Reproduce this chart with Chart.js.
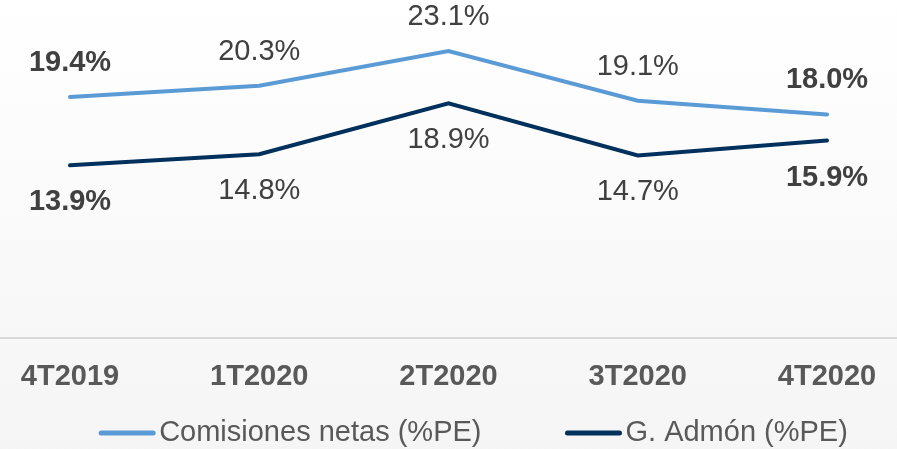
<!DOCTYPE html>
<html>
<head>
<meta charset="utf-8">
<script src="https://cdn.jsdelivr.net/npm/chart.js@4.4.1/dist/chart.umd.min.js"></script>
<style>
  html, body { margin: 0; padding: 0; background: #fff; }
  #wrap { width: 897px; height: 449px; }
</style>
</head>
<body>
<div id="wrap"><canvas id="chart"></canvas></div>
<script>
const labels = ['4T2019', '1T2020', '2T2020', '3T2020', '4T2020'];
const comisiones = [19.4, 20.3, 23.1, 19.1, 18.0];
const gAdmon = [13.9, 14.8, 18.9, 14.7, 15.9];
// which value labels are bold (first and last)
const boldLabel = [true, false, false, false, true];

const FONT = "'Liberation Sans', Arial, sans-serif";

// soft gradient background + full width axis line
const bgPlugin = {
  id: 'bg',
  beforeDraw(chart) {
    const c = chart.ctx;
    const g = c.createLinearGradient(0, 0, 0, chart.height);
    g.addColorStop(0, '#ffffff');
    g.addColorStop(1, '#f5f5f6');
    c.save();
    c.fillStyle = g;
    c.fillRect(0, 0, chart.width, chart.height);
    const y = Math.round(chart.chartArea.bottom);
    c.strokeStyle = '#d9d9d9';
    c.lineWidth = 2;
    c.beginPath();
    c.moveTo(0, y);
    c.lineTo(chart.width, y);
    c.stroke();
    c.restore();
  }
};

// value labels: first series above, second series below
const valuePlugin = {
  id: 'values',
  afterDatasetsDraw(chart) {
    const c = chart.ctx;
    c.save();
    c.fillStyle = '#404040';
    c.textAlign = 'center';
    c.textBaseline = 'middle';
    chart.data.datasets.forEach((ds, di) => {
      const meta = chart.getDatasetMeta(di);
      meta.data.forEach((pt, i) => {
        c.font = (boldLabel[i] ? 'bold ' : '') + '29px ' + FONT;
        const dy = di === 0 ? -34 : 37;
        c.fillText(ds.data[i].toFixed(1) + '%', pt.x, pt.y + dy);
      });
    });
    c.restore();
  }
};

// legend drawn by hand so line/text spacing matches
const legendPlugin = {
  id: 'simpleLegend',
  afterDraw(chart) {
    const c = chart.ctx;
    const lineLen = 56, textGap = 4, itemGap = 84;
    c.save();
    c.font = '29px ' + FONT;
    c.textBaseline = 'middle';
    const items = chart.data.datasets.map(ds => ({
      ds, w: lineLen + textGap + c.measureText(ds.label).width
    }));
    const total = items.reduce((s, it) => s + it.w, 0) + itemGap * (items.length - 1);
    let x = chart.width / 2 + 25 - total / 2;
    const y = chart.height - 16;
    items.forEach(it => {
      c.strokeStyle = it.ds.borderColor;
      c.lineWidth = 5;
      c.lineCap = 'round';
      c.beginPath();
      c.moveTo(x + 2, y);
      c.lineTo(x + lineLen - 2, y);
      c.stroke();
      c.fillStyle = '#595959';
      c.fillText(it.ds.label, x + lineLen + textGap, y);
      x += it.w + itemGap;
    });
    c.restore();
  }
};

const data = {
  labels: labels,
  datasets: [{
    label: 'Comisiones netas (%PE)',
    data: comisiones,
    borderColor: '#5b9bd5',
    backgroundColor: '#5b9bd5',
    borderWidth: 4,
    borderCapStyle: 'round',
    pointRadius: 0,
    tension: 0,
    fill: false
  }, {
    label: 'G. Admón (%PE)',
    data: gAdmon,
    borderColor: '#00305c',
    backgroundColor: '#00305c',
    borderWidth: 4,
    borderCapStyle: 'round',
    pointRadius: 0,
    tension: 0,
    fill: false
  }]
};

const config = {
  type: 'line',
  data: data,
  options: {
    responsive: true,
    maintainAspectRatio: false,
    animation: false,
    layout: { padding: { left: 70, right: 70, top: 0, bottom: 42 } },
    plugins: {
      tooltip: { enabled: false },
      legend: { display: false }
    },
    scales: {
      x: {
        offset: false,
        grid: { display: false },
        border: { display: false },
        ticks: {
          color: '#595959',
          font: { family: FONT, size: 29, weight: 'bold' },
          padding: 13,
          maxRotation: 0,
          autoSkip: false
        }
      },
      y: {
        display: false,
        min: 0,
        max: 27.2
      }
    }
  },
  plugins: [bgPlugin, valuePlugin, legendPlugin]
};

const myChart = new Chart(document.getElementById('chart'), config);
</script>
</body>
</html>
